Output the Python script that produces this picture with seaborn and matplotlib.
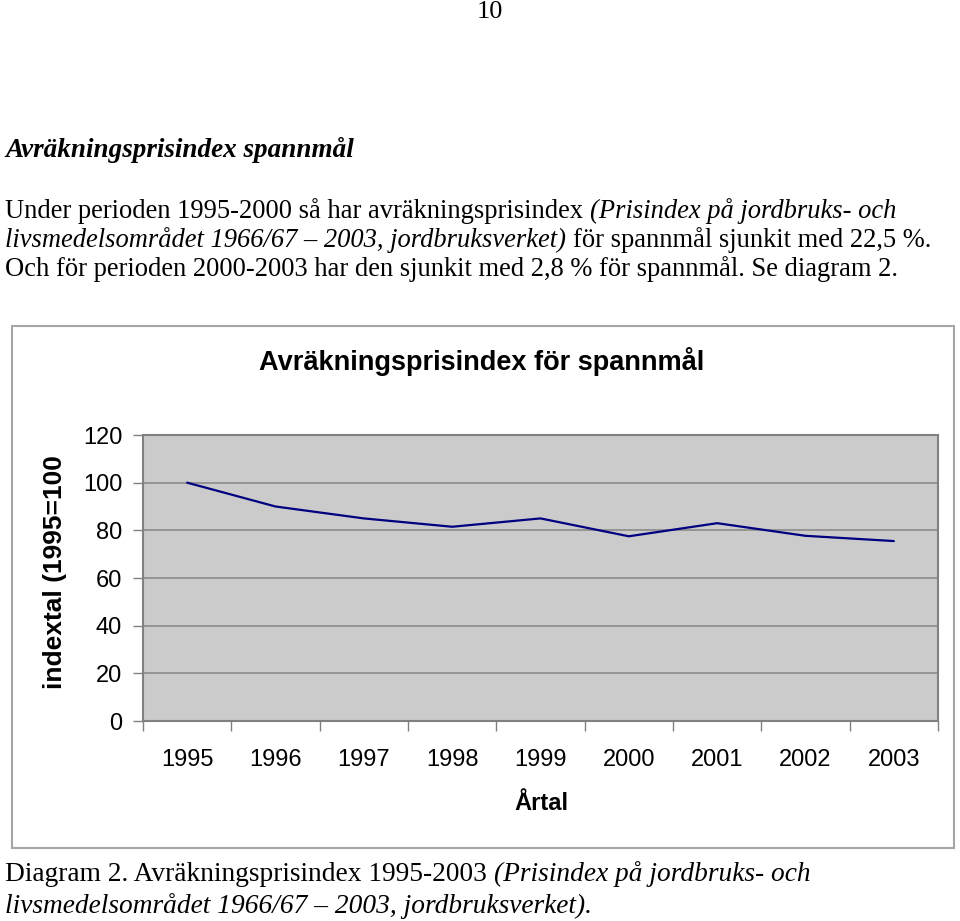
import matplotlib
matplotlib.use("Agg")
import matplotlib.pyplot as plt
import seaborn as sns
import pandas as pd
import numpy as np
from matplotlib.patches import Rectangle

# ---------------- data ----------------
years = ["1995", "1996", "1997", "1998", "1999", "2000", "2001", "2002", "2003"]
index_values = [100.0, 90.0, 85.0, 81.5, 85.0, 77.5, 83.0, 77.7, 75.5]
y_ticks = [0, 20, 40, 60, 80, 100, 120]

page_number = "10"
heading = "Avräkningsprisindex spannmål"
body_lines = [
    [("Under perioden 1995-2000 så har avräkningsprisindex", "normal"),
     ("(Prisindex på jordbruks- och", "italic")],
    [("livsmedelsområdet 1966/67 – 2003, jordbruksverket)", "italic"),
     ("för spannmål sjunkit med 22,5 %.", "normal")],
    [("Och för perioden 2000-2003 har den sjunkit med 2,8 % för spannmål. Se diagram 2.", "normal")],
]
caption_lines = [
    [("Diagram 2. Avräkningsprisindex 1995-2003", "normal"),
     ("(Prisindex på jordbruks- och", "italic")],
    [("livsmedelsområdet 1966/67 – 2003, jordbruksverket).", "italic")],
]
chart_title = "Avräkningsprisindex för spannmål"
x_label = "Årtal"
y_label = "indextal (1995=100)"

df = pd.DataFrame({"pos": np.arange(len(years)), "year": years, "value": index_values})

# ---------------- figure ----------------
W, H = 960, 921
sns.set_theme(style="white")
plt.rcParams["font.family"] = ["Liberation Sans", "DejaVu Sans"]
plt.rcParams["text.color"] = "black"
plt.rcParams["xtick.color"] = "black"
plt.rcParams["ytick.color"] = "black"
plt.rcParams["axes.labelcolor"] = "black"
fig = plt.figure(figsize=(W / 100, H / 100), dpi=100)
fig.patch.set_facecolor("white")
renderer = fig.canvas.get_renderer()


def fx(px):
    return px / W


def fy(py):
    return 1 - py / H


SERIF = ["Liberation Serif", "DejaVu Serif"]
SANS = ["Liberation Sans", "DejaVu Sans"]


def measure(text, size, style, weight="normal", family=SERIF):
    t = fig.text(0, 0, text, fontsize=size, fontstyle=style, fontweight=weight, family=family)
    w = t.get_window_extent(renderer).width
    t.remove()
    return w


def space_w(size, style, weight="normal", family=SERIF):
    return measure("x x", size, style, weight, family) - measure("xx", size, style, weight, family)


def line_width(segs, size, weight="normal", family=SERIF):
    total = 0
    for i, (s, st) in enumerate(segs):
        total += measure(s, size, st, weight, family)
        if i < len(segs) - 1:
            total += space_w(size, segs[i + 1][1], weight, family)
    return total


def place(segs, x0, yc, size, weight="normal", family=SERIF):
    x = x0
    for i, (s, st) in enumerate(segs):
        t = fig.text(fx(x), fy(yc), s, fontsize=size, fontstyle=st, fontweight=weight,
                     family=family, ha="left", va="center", color="black")
        x += t.get_window_extent(renderer).width
        if i < len(segs) - 1:
            x += space_w(size, segs[i + 1][1], weight, family)


def fit_size(segs, target, base=17, weight="normal", family=SERIF):
    w = line_width(segs, base, weight, family)
    return base * target / w


# page number
fig.text(fx(490), fy(12), page_number, fontsize=19, family=SERIF, ha="center", va="center")

# heading
hs = fit_size([(heading, "italic")], 350, weight="bold")
place([(heading, "italic")], 5, 150, hs, weight="bold")

# body text
ys = [211, 240, 269]
bs = fit_size(body_lines[0], 892)
for segs, yc in zip(body_lines, ys):
    place(segs, 5, yc, bs)

# caption
cs = fit_size(caption_lines[0], 807)
place(caption_lines[0], 5, 874, cs)
place(caption_lines[1], 5, 906, cs)

# chart border box
fig.patches.append(Rectangle((fx(12), fy(848)), fx(954) - fx(12), fy(326) - fy(848),
                             transform=fig.transFigure, fill=False, edgecolor="#a6a6a6",
                             linewidth=1.5, zorder=0))

# chart title
ts = fit_size([(chart_title, "normal")], 447, weight="bold", family=SANS)
fig.text(fx(482), fy(362), chart_title, fontsize=ts, fontweight="bold",
         ha="center", va="center", family=SANS, color="black")

# axes
left, right, top, bottom = 143, 938, 435, 721
ax = fig.add_axes([fx(left), fy(bottom), fx(right) - fx(left), fy(top) - fy(bottom)])
ax.set_facecolor("#cbcbcb")
sns.lineplot(data=df, x="pos", y="value", ax=ax, color="#000080", linewidth=1.6, zorder=3)

ax.set_xlim(-0.5, len(years) - 0.5)
ax.set_ylim(0, 120)
ax.set_yticks(y_ticks)
ax.set_yticklabels([str(v) for v in y_ticks], fontsize=17, color="black")
ax.yaxis.grid(True, color="#858585", linewidth=1.1)
ax.xaxis.grid(False)
ax.set_axisbelow(True)

ax.set_xticks(np.arange(-0.5, len(years), 1.0))
ax.set_xticklabels([])
ax.set_xticks(np.arange(len(years)), minor=True)
ax.set_xticklabels(years, minor=True, fontsize=17, color="black")
ax.tick_params(axis="x", which="major", direction="out", length=7, width=1, color="#808080", bottom=True)
ax.tick_params(axis="x", which="minor", length=0, pad=20)
ax.tick_params(axis="y", which="major", direction="out", length=7, width=1, color="#808080", left=True, pad=8)
for sp in ax.spines.values():
    sp.set_visible(True)
    sp.set_color("#808080")
    sp.set_linewidth(1.5)
ax.set_xlabel("")
ax.set_ylabel("")

# axis labels
fig.text(fx(541), fy(803), x_label, fontsize=17, fontweight="bold", ha="center", va="center",
         color="black")
yl = fig.text(fx(55), fy(689), y_label, fontsize=19, fontweight="bold", rotation=90,
              ha="left", va="center", rotation_mode="anchor", color="black")
clip = Rectangle((0, fy(691)), 1, fy(456) - fy(691), transform=fig.transFigure)
yl.set_clip_path(clip)

fig.savefig("out.png", dpi=100, facecolor="white")
